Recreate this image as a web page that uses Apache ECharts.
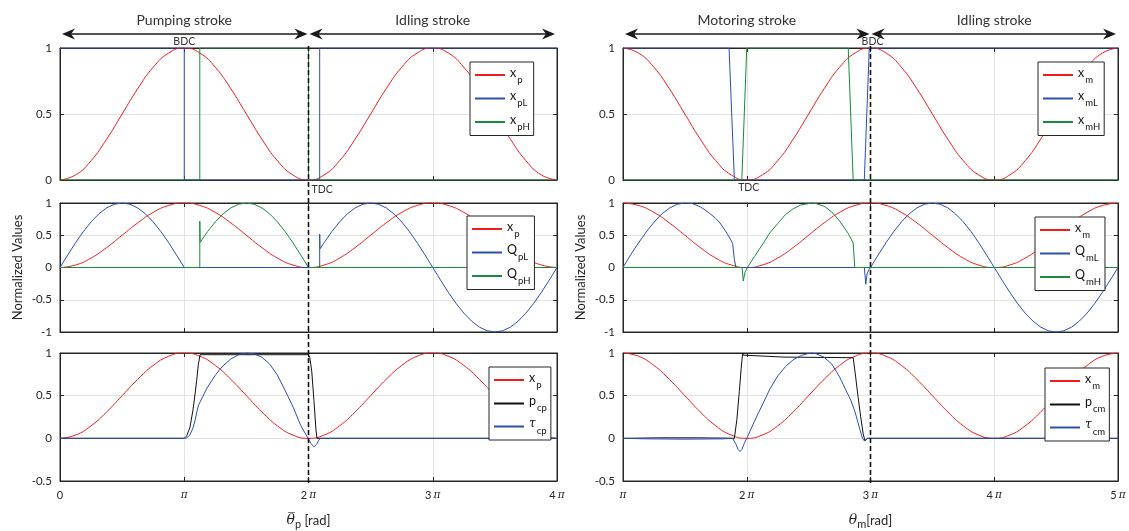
<!DOCTYPE html>
<html><head><meta charset="utf-8">
<script src="https://cdn.jsdelivr.net/npm/echarts@6/dist/echarts.min.js"></script>
<style>html,body{margin:0;padding:0;background:#fff}#c{width:1129px;height:531px}</style>
</head><body><div id="c"></div>
<script>
// x positions are in units of π
const STEP = 0.125;
const xpVals = [0,0.038,0.146,0.309,0.5,0.691,0.854,0.962,1,0.962,0.854,0.691,0.5,0.309,0.146,0.038,0,0.038,0.146,0.309,0.5,0.691,0.854,0.962,1,0.962,0.854,0.691,0.5,0.309,0.146,0.038,0];
const xmVals = [1,0.962,0.854,0.691,0.5,0.309,0.146,0.038,0,0.038,0.146,0.309,0.5,0.691,0.854,0.962,1,0.962,0.854,0.691,0.5,0.309,0.146,0.038,0,0.038,0.146,0.309,0.5,0.691,0.854,0.962,1];

const xpL = [[0,1],[1,1],[1,0],[2.09,0],[2.09,1],[4,1]];
const xpH = [[0,0],[1.125,0],[1.125,1],[2,1],[2,0],[4,0]];
const xmL = [[1,1],[1.857,1],[1.9,0],[2.95,0],[2.99,1],[5,1]];
const xmH = [[1,0],[1.96,0],[2.0,1],[2.82,1],[2.86,0],[5,0]];

const QpL = [[0,0],[0.0625,0.195],[0.125,0.383],[0.1875,0.556],[0.25,0.707],[0.3125,0.831],[0.375,0.924],[0.4375,0.981],[0.5,1],[0.5625,0.981],[0.625,0.924],[0.6875,0.831],[0.75,0.707],[0.8125,0.556],[0.875,0.383],[0.9375,0.195],[1,0],[2.09,0],[2.09,0.52],[2.093,0.29],[2.125,0.383],[2.1875,0.556],[2.25,0.707],[2.3125,0.831],[2.375,0.924],[2.4375,0.981],[2.5,1],[2.5625,0.981],[2.625,0.924],[2.6875,0.831],[2.75,0.707],[2.8125,0.556],[2.875,0.383],[2.9375,0.195],[3,0],[3.0625,-0.195],[3.125,-0.383],[3.1875,-0.556],[3.25,-0.707],[3.3125,-0.831],[3.375,-0.924],[3.4375,-0.981],[3.5,-1],[3.5625,-0.981],[3.625,-0.924],[3.6875,-0.831],[3.75,-0.707],[3.8125,-0.556],[3.875,-0.383],[3.9375,-0.195],[4,0]];
const QpH = [[0,0],[1.125,0],[1.125,0.72],[1.128,0.39],[1.1875,0.556],[1.25,0.707],[1.3125,0.831],[1.375,0.924],[1.4375,0.981],[1.5,1],[1.5625,0.981],[1.625,0.924],[1.6875,0.831],[1.75,0.707],[1.8125,0.556],[1.875,0.383],[1.9375,0.195],[2,0],[4,0]];
const QmL = [[1,0],[1.0625,0.2],[1.125,0.38],[1.1875,0.55],[1.25,0.7],[1.3125,0.83],[1.375,0.92],[1.4375,0.98],[1.5,1],[1.5625,0.99],[1.625,0.94],[1.6875,0.86],[1.75,0.76],[1.784,0.69],[1.8125,0.61],[1.84,0.53],[1.865,0.45],[1.886,0.37],[1.9,0.12],[1.913,0],[2.95,0],[2.962,-0.26],[2.972,-0.1],[2.985,-0.04],[3,0],[3.0625,0.195],[3.125,0.383],[3.1875,0.556],[3.25,0.707],[3.3125,0.831],[3.375,0.924],[3.4375,0.981],[3.5,1],[3.5625,0.981],[3.625,0.924],[3.6875,0.831],[3.75,0.707],[3.8125,0.556],[3.875,0.383],[3.9375,0.195],[4,0],[4.0625,-0.195],[4.125,-0.383],[4.1875,-0.556],[4.25,-0.707],[4.3125,-0.831],[4.375,-0.924],[4.4375,-0.981],[4.5,-1],[4.5625,-0.981],[4.625,-0.924],[4.6875,-0.831],[4.75,-0.707],[4.8125,-0.556],[4.875,-0.383],[4.9375,-0.195],[5,0]];
const QmH = [[1,0],[1.962,0],[1.972,-0.21],[1.985,-0.08],[2.005,0],[2.0625,0.17],[2.125,0.35],[2.1875,0.54],[2.25,0.68],[2.3125,0.82],[2.375,0.91],[2.4375,0.97],[2.525,1.0],[2.5625,0.99],[2.625,0.95],[2.6875,0.86],[2.75,0.72],[2.82,0.53],[2.86,0.38],[2.873,0],[5,0]];

const pcp = [[0,0],[1,0],[1.02,0.03],[1.046,0.13],[1.07,0.33],[1.087,0.52],[1.1,0.68],[1.113,0.86],[1.127,0.98],[2,0.98],[2.01,0.95],[2.026,0.79],[2.044,0.44],[2.06,0.1],[2.068,0],[4,0]];
const tcp = [[0,0],[1,0],[1.02,0.005],[1.046,0.04],[1.07,0.12],[1.087,0.21],[1.1,0.3],[1.113,0.38],[1.125,0.42],[1.1875,0.6],[1.25,0.74],[1.288,0.81],[1.3125,0.85],[1.375,0.93],[1.4375,0.98],[1.5,1],[1.5625,0.99],[1.625,0.95],[1.6875,0.87],[1.75,0.74],[1.8125,0.56],[1.875,0.37],[1.9375,0.15],[2,-0.01],[2.02,-0.06],[2.044,-0.1],[2.065,-0.07],[2.08,-0.03],[2.093,0],[4,0]];
const pcm = [[1,0],[1.3,0.006],[1.6,0.006],[1.85,0.002],[1.9,0],[1.92,0.22],[1.94,0.55],[1.955,0.82],[1.967,1.0],[1.972,0.975],[1.985,0.958],[2.3,0.952],[2.86,0.945],[2.88,0.72],[2.9,0.48],[2.92,0.26],[2.94,0.06],[2.955,-0.03],[2.962,-0.03],[2.975,0],[5,0]];
const tcm = [[1,0],[1.2,-0.006],[1.5,-0.01],[1.8,-0.006],[1.886,0],[1.91,-0.06],[1.93,-0.13],[1.945,-0.155],[1.96,-0.13],[1.98,-0.06],[2.0,0.0],[2.0625,0.2],[2.125,0.39],[2.1875,0.58],[2.25,0.73],[2.3125,0.84],[2.375,0.92],[2.4375,0.97],[2.5,0.995],[2.53,1],[2.5625,0.99],[2.625,0.95],[2.6875,0.87],[2.75,0.72],[2.8125,0.53],[2.84,0.45],[2.875,0.31],[2.915,0.1],[2.935,0.0],[2.95,-0.03],[2.962,-0.025],[2.975,0],[5,0]];

const strokeLabels = ['Pumping stroke','Idling stroke','Motoring stroke','Idling stroke'];

const RED='#f01c1c', BLUE='#2d4fae', GREEN='#1a8a3c', BLACK='#111111';
const FONT='Lato';
const AX='#262626';

const chart = echarts.init(document.getElementById('c'), null, {renderer:'canvas'});

const grids = [
  {left:60, top:48, width:497, height:132},
  {left:623, top:48, width:495, height:132},
  {left:60, top:203, width:497, height:129},
  {left:623, top:203, width:495, height:129},
  {left:60, top:353, width:497, height:132},
  {left:623, top:353, width:495, height:132}
].map(g => Object.assign({show:true, borderColor:AX, borderWidth:1, backgroundColor:'transparent'}, g));

const piRich = {n:{fontFamily:FONT,fontSize:11,color:AX}, p:{fontFamily:'DejaVu Serif',fontStyle:'italic',fontSize:10.5,color:AX}};
function xLabel(v){ if (Math.abs(v)<1e-9) return '{n|0}'; if (Math.abs(v-1)<1e-9) return '{p|π}'; return '{n|'+Math.round(v)+'}{p|\u2009π}'; }
function xAxis(gi, min, max, labels, name){
  return {type:'value', gridIndex:gi, min, max, interval:1,
    axisLine:{show:true, onZero:false, lineStyle:{color:AX,width:1}},
    axisTick:{show:true, inside:true, length:4, lineStyle:{color:AX}},
    axisLabel:{show:labels, formatter:xLabel, rich:piRich, margin:9},
    splitLine:{show:true, lineStyle:{color:'#e3e3e3',width:1}},
    name: name||'', nameLocation:'middle', nameGap:30,
    nameTextStyle:{rich:{
      th:{fontFamily:'DejaVu Serif',fontStyle:'italic',fontSize:14,color:AX},
      sb:{fontFamily:FONT,fontSize:11,color:AX,padding:[8,0,0,0]},
      r:{fontFamily:FONT,fontSize:13,color:AX}}}
  };
}
function yAxis(gi, min, max, name){
  return {type:'value', gridIndex:gi, min, max, interval:0.5,
    axisLine:{show:true, onZero:false, lineStyle:{color:AX}},
    axisTick:{show:true, inside:true, length:4, lineStyle:{color:AX}},
    axisLabel:{fontFamily:FONT,fontSize:11.5,color:AX,margin:8},
    splitLine:{show:true, lineStyle:{color:'#e3e3e3',width:1}},
    name:name||'', nameLocation:'middle', nameGap:36,
    nameTextStyle:{fontFamily:FONT,fontSize:13,color:AX}
  };
}
// mirror axes (box ticks on top/right sides)
function xTop(gi,min,max){ return {type:'value',gridIndex:gi,min,max,interval:1,position:'top',
  axisLine:{show:true,onZero:false,lineStyle:{color:AX}}, axisTick:{show:true,inside:true,length:4,lineStyle:{color:AX}},
  axisLabel:{show:false}, splitLine:{show:false}}; }
function yRight(gi,min,max){ return {type:'value',gridIndex:gi,min,max,interval:0.5,position:'right',
  axisLine:{show:true,onZero:false,lineStyle:{color:AX}}, axisTick:{show:true,inside:true,length:4,lineStyle:{color:AX}},
  axisLabel:{show:false}, splitLine:{show:false}}; }

const xAxes = [
  xAxis(0,0,4,false), xAxis(1,1,5,false),
  xAxis(2,0,4,false), xAxis(3,1,5,false),
  xAxis(4,0,4,true,'{th|θ\u0305}{sb|p}{r| [rad]}'), xAxis(5,1,5,true,'{th|θ}{sb|m}{r|[rad]}'),
  xTop(0,0,4), xTop(1,1,5), xTop(2,0,4), xTop(3,1,5), xTop(4,0,4), xTop(5,1,5)
];
const yAxes = [
  yAxis(0,0,1), yAxis(1,0,1),
  yAxis(2,-1,1,'Normalized Values'), yAxis(3,-1,1,'Normalized Values'),
  yAxis(4,-0.5,1), yAxis(5,-0.5,1),
  yRight(0,0,1), yRight(1,0,1), yRight(2,-1,1), yRight(3,-1,1), yRight(4,-0.5,1), yRight(5,-0.5,1)
];

function cosData(vals, start){ return vals.map((v,i)=>[start+i*STEP, v]); }
function ser(name, gi, data, color, smooth){
  return {type:'line', name, xAxisIndex:gi, yAxisIndex:gi, data, symbol:'none', smooth:!!smooth,
    lineStyle:{color, width:1}, itemStyle:{color}, animation:false, silent:true};
}
const series = [
  ser('x_p',0,cosData(xpVals,0),RED,true), ser('x_pL',0,xpL,BLUE), ser('x_pH',0,xpH,GREEN),
  ser('x_m',1,cosData(xmVals,1),RED,true), ser('x_mL',1,xmL,BLUE), ser('x_mH',1,xmH,GREEN),
  ser('x_p',2,cosData(xpVals,0),RED,true), ser('Q_pL',2,QpL,BLUE), ser('Q_pH',2,QpH,GREEN),
  ser('x_m',3,cosData(xmVals,1),RED,true), ser('Q_mL',3,QmL,BLUE), ser('Q_mH',3,QmH,GREEN),
  ser('x_p',4,cosData(xpVals,0),RED,true), ser('p_cp',4,pcp,BLACK), ser('τ_cp',4,tcp,BLUE),
  ser('x_m',5,cosData(xmVals,1),RED,true), ser('p_cm',5,pcm,BLACK), ser('τ_cm',5,tcm,BLUE)
];

const legRich = {
  b:{fontFamily:FONT,fontSize:12.5,color:'#111',padding:[0,0,5,0]},
  t:{fontFamily:'DejaVu Serif',fontStyle:'italic',fontSize:12,color:'#111',padding:[0,0,5,0]},
  s:{fontFamily:FONT,fontSize:9.5,color:'#111',padding:[9,0,0,1]}
};
function legFmt(name){ const [a,b]=name.split('_'); return (a==='τ'?'{t|τ}':'{b|'+a+'}')+'{s|'+b+'}'; }
function legend(left, top, data, w){
  return {left, top, orient:'vertical', data, itemWidth:30, itemHeight:19, itemGap:5,
    padding:[4,4,4,4], backgroundColor:'#fff', borderColor:AX, borderWidth:1, borderRadius:0,
    selectedMode:false, formatter:legFmt, itemStyle:{opacity:0},
    textStyle:{rich:legRich, width:w}};
}
const legends = [
  legend(470,62,['x_p','x_pL','x_pH'],29),
  legend(1038,62,['x_m','x_mL','x_mH'],25),
  legend(467,216,['x_p','Q_pL','Q_pH'],37),
  legend(1035,217,['x_m','Q_mL','Q_mH'],29),
  legend(489,367,['x_p','p_cp','τ_cp'],20),
  legend(1045,368,['x_m','p_cm','τ_cm'],20)
];

chart.setOption({animation:false, grid:grids, xAxis:xAxes, yAxis:yAxes, series, legend:legends});

// annotations positioned through the axes' own scales
const P = (gi,x,y) => chart.convertToPixel({gridIndex:gi},[x,y]);
const g = [];
function arrow(x1,x2,y){
  g.push({type:'line', shape:{x1:x1+6,y1:y,x2:x2-6,y2:y}, style:{stroke:'#1a1a1a',lineWidth:1.6}, z:100});
  g.push({type:'polygon', shape:{points:[[x1,y],[x1+13,y-5.5],[x1+9,y],[x1+13,y+5.5]]}, style:{fill:'#1a1a1a'}, z:100});
  g.push({type:'polygon', shape:{points:[[x2,y],[x2-13,y-5.5],[x2-9,y],[x2-13,y+5.5]]}, style:{fill:'#1a1a1a'}, z:100});
}
function txt(x,y,text,size,align){
  g.push({type:'text', x, y, style:{text, fontFamily:FONT, fontSize:size, fill:'#333', align:align||'center', verticalAlign:'middle'}, z:100});
}
function dashed(gTop, gBot, x, yTop, yBot){
  const a=P(gTop,x,yTop), b=P(gBot,x,yBot);
  g.push({type:'line', shape:{x1:a[0],y1:a[1]-2,x2:b[0],y2:b[1]+2}, style:{stroke:'#111',lineWidth:1.6,lineDash:[5,3]}, z:120});
}
// left column
let a0=P(0,0,1), a2=P(0,2,1), a4=P(0,4,1);
const ay=a0[1]-14;
arrow(a0[0]+2,a2[0]-1,ay); arrow(a2[0]+1,a4[0]-2,ay);
txt((a0[0]+a2[0])/2, a0[1]-28, strokeLabels[0], 14);
txt((a2[0]+a4[0])/2, a0[1]-28, strokeLabels[1], 14);
let bdc=P(0,1,1); txt(bdc[0], bdc[1]-6, 'BDC', 10.5);
let tdc=P(0,2,0); txt(tdc[0]+3, tdc[1]+10, 'TDC', 10.5, 'left');
dashed(0,4,2,1,-0.5);
// right column
let b1=P(1,1,1), b3=P(1,3,1), b5=P(1,5,1);
arrow(b1[0]+2,b3[0]-1,ay); arrow(b3[0]+1,b5[0]-2,ay);
txt((b1[0]+b3[0])/2, b1[1]-28, strokeLabels[2], 14);
txt((b3[0]+b5[0])/2, b1[1]-28, strokeLabels[3], 14);
let bdc2=P(1,3,1); txt(bdc2[0]+2, bdc2[1]-6, 'BDC', 10.5);
let tdc2=P(1,2,0); txt(tdc2[0]+2, tdc2[1]+8, 'TDC', 10.5);
dashed(1,5,3,1,-0.5);

chart.setOption({graphic:g});
</script></body></html>
